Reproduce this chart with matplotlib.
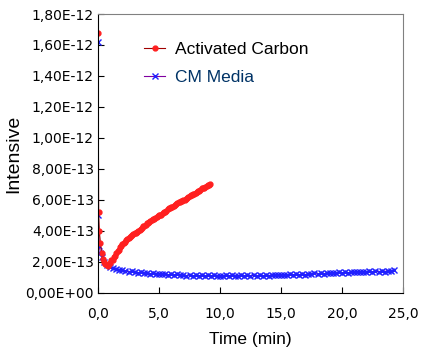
import numpy as np
import matplotlib
matplotlib.use("Agg")
import matplotlib.pyplot as plt
from matplotlib.ticker import FuncFormatter

# Activated Carbon (time in min, intensity in units of 1e-13)
ac_t = [0.0, 0.05, 0.1, 0.2, 0.3, 0.4, 0.5, 0.6, 0.7, 0.8, 0.9, 1.0, 1.1, 1.2, 1.3, 1.4,
        1.5, 1.6, 1.7, 1.8, 1.9, 2.0, 2.1, 2.2, 2.3, 2.4, 2.5, 2.6, 2.7, 2.8, 2.9, 3.0,
        3.1, 3.2, 3.3, 3.4, 3.5, 3.6, 3.7, 3.8, 3.9, 4.0, 4.1, 4.2, 4.3, 4.4, 4.5, 4.6,
        4.7, 4.8, 4.9, 5.0, 5.1, 5.2, 5.3, 5.4, 5.5, 5.6, 5.7, 5.8, 5.9, 6.0, 6.1, 6.2,
        6.3, 6.4, 6.5, 6.6, 6.7, 6.8, 6.9, 7.0, 7.1, 7.2, 7.3, 7.4, 7.5, 7.6, 7.7, 7.8,
        7.9, 8.0, 8.1, 8.2, 8.3, 8.4, 8.5, 8.6, 8.7, 8.8, 8.9, 9.0, 9.1, 9.2]
ac_v = [16.8, 5.2, 4.0, 3.2, 2.6, 2.2, 2.0, 1.9, 1.8, 1.75, 1.85, 1.95, 2.1, 2.15, 2.3, 2.4,
        2.6, 2.7, 2.8, 2.95, 3.05, 3.15, 3.2, 3.3, 3.4, 3.45, 3.55, 3.6, 3.7, 3.75, 3.8, 3.85,
        3.9, 3.95, 4.0, 4.05, 4.15, 4.2, 4.3, 4.35, 4.4, 4.5, 4.5, 4.55, 4.65, 4.7, 4.75, 4.8,
        4.85, 4.9, 4.95, 5.0, 5.0, 5.05, 5.15, 5.2, 5.25, 5.3, 5.4, 5.45, 5.5, 5.55, 5.55, 5.6,
        5.7, 5.75, 5.8, 5.85, 5.9, 5.95, 5.95, 6.0, 6.0, 6.05, 6.15, 6.2, 6.25, 6.3, 6.35, 6.4,
        6.4, 6.45, 6.5, 6.55, 6.6, 6.65, 6.75, 6.8, 6.8, 6.85, 6.9, 6.95, 6.95, 7.0]

# CM Media
cm_t = [0.0, 0.02, 0.1, 0.2, 0.3, 0.5, 0.7, 1.0, 1.25, 1.5, 1.75, 2.0, 2.25, 2.5, 2.75,
        3.0, 3.25, 3.5, 3.75, 4.0, 4.25, 4.5, 4.75, 5.0, 5.25, 5.5, 5.75, 6.0, 6.25, 6.5,
        6.75, 7.0, 7.25, 7.5, 7.75, 8.0, 8.25, 8.5, 8.75, 9.0, 9.25, 9.5, 9.75, 10.0, 10.25,
        10.5, 10.75, 11.0, 11.25, 11.5, 11.75, 12.0, 12.25, 12.5, 12.75, 13.0, 13.25, 13.5,
        13.75, 14.0, 14.25, 14.5, 14.75, 15.0, 15.25, 15.5, 15.75, 16.0, 16.25, 16.5, 16.75,
        17.0, 17.25, 17.5, 17.75, 18.0, 18.25, 18.5, 18.75, 19.0, 19.25, 19.5, 19.75, 20.0,
        20.25, 20.5, 20.75, 21.0, 21.25, 21.5, 21.75, 22.0, 22.25, 22.5, 22.75, 23.0, 23.25,
        23.5, 23.75, 24.0, 24.25]
cm_v = [16.2, 5.0, 3.0, 2.6, 2.3, 2.0, 1.8, 1.65, 1.62, 1.55, 1.5, 1.45, 1.42, 1.38, 1.40,
        1.33, 1.30, 1.36, 1.27, 1.29, 1.24, 1.28, 1.22, 1.25, 1.20, 1.24, 1.18, 1.21, 1.16, 1.20,
        1.14, 1.18, 1.12, 1.16, 1.10, 1.14, 1.11, 1.15, 1.09, 1.13, 1.10, 1.14, 1.08, 1.12, 1.09,
        1.13, 1.10, 1.14, 1.08, 1.12, 1.15, 1.10, 1.13, 1.09, 1.14, 1.11, 1.15, 1.10,
        1.16, 1.12, 1.17, 1.13, 1.18, 1.15, 1.19, 1.14, 1.20, 1.17, 1.21, 1.18, 1.23,
        1.19, 1.24, 1.21, 1.26, 1.22, 1.27, 1.24, 1.29, 1.26, 1.31, 1.27, 1.32, 1.29,
        1.34, 1.30, 1.36, 1.32, 1.37, 1.33, 1.38, 1.34, 1.39, 1.35, 1.40, 1.37, 1.42,
        1.38, 1.44, 1.40, 1.45]

x_ticks = [0, 5, 10, 15, 20, 25]
y_ticks = [0, 2e-13, 4e-13, 6e-13, 8e-13, 1.0e-12, 1.2e-12, 1.4e-12, 1.6e-12, 1.8e-12]

plt.rcParams['font.family'] = ['Liberation Sans', 'DejaVu Sans']

fig = plt.figure(figsize=(4.3, 3.5), dpi=100)
ax = fig.add_axes([0.228, 0.163, 0.709, 0.797])

ax.plot(cm_t, np.array(cm_v) * 1e-13, '-', color='#8000a0', lw=0.8,
        marker='x', ms=4.5, mec='#2020ff', mew=1.0, label='CM Media')
ax.plot(ac_t, np.array(ac_v) * 1e-13, '-', color='#a00000', lw=0.8,
        marker='o', ms=3.5, mfc='#ff2020', mec='#ff2020', label='Activated Carbon')

ax.set_xticks(x_ticks)
ax.set_yticks(y_ticks)
ax.set_xlim(0, 25)
ax.set_ylim(0, 1.8e-12)
ax.xaxis.set_major_formatter(FuncFormatter(lambda v, p: f"{v:.1f}".replace('.', ',')))
ax.yaxis.set_major_formatter(FuncFormatter(lambda v, p: f"{v:.2E}".replace('.', ',')))
ax.tick_params(direction='in', length=4, width=0.8)
ax.tick_params(axis='x', pad=10)
ax.tick_params(axis='y', pad=3)
for lab in ax.get_xticklabels() + ax.get_yticklabels():
    lab.set_fontfamily('DejaVu Sans')
    lab.set_fontsize(10)

ax.spines['top'].set_color('#808080')
ax.spines['right'].set_color('#808080')

ax.set_xlabel('Time (min)', fontsize=12.5, labelpad=8)
ax.set_ylabel('Intensive', fontsize=14, labelpad=2)

h, l = ax.get_legend_handles_labels()
leg = ax.legend(h[::-1], l[::-1], loc='upper left', bbox_to_anchor=(0.1, 0.955),
                frameon=False, fontsize=12.5, handlelength=1.2, handletextpad=0.6,
                labelspacing=0.7)
leg.get_texts()[1].set_color('#003366')

fig.savefig('out.png', dpi=100)
